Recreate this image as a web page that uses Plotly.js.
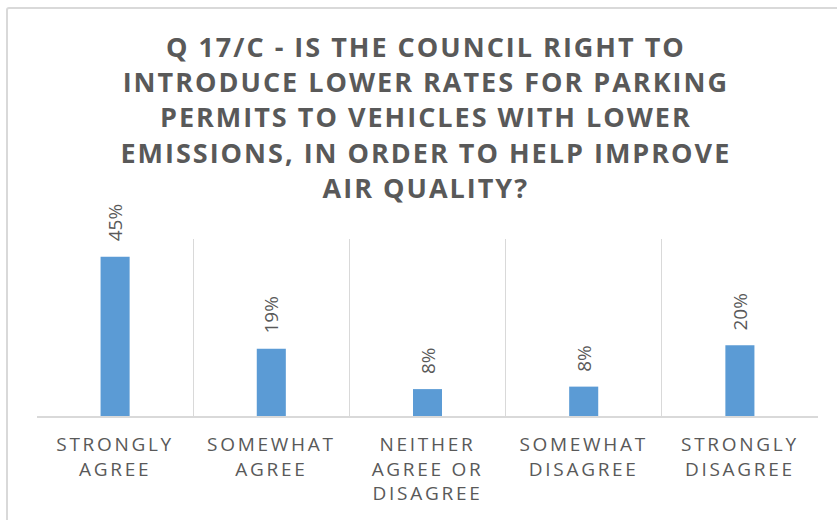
<!DOCTYPE html>
<html>
<head>
<meta charset="utf-8">
<script src="https://cdn.plot.ly/plotly-3.0.1.min.js"></script>
<style>
  html, body { margin: 0; padding: 0; background: #ffffff; }
  #wrap { position: relative; width: 837px; height: 520px; overflow: hidden; }
  #frame { position: absolute; left: 6px; top: 7px; width: 900px; height: 600px;
           border: 2px solid #D9D9D9; border-radius: 3px; box-sizing: border-box; pointer-events: none; z-index: 2; }
  #chart { position: absolute; left: 0; top: 0; width: 837px; height: 520px; }
  .gtitle { letter-spacing: 2px; }
  .xtick text { letter-spacing: 2.7px; }
</style>
</head>
<body>
<div id="wrap">
  <div id="chart"></div>
  <div id="frame"></div>
</div>
<script>
const categories = [
  "STRONGLY<br>AGREE",
  "SOMEWHAT<br>AGREE",
  "NEITHER<br>AGREE OR<br>DISAGREE",
  "SOMEWHAT<br>DISAGREE",
  "STRONGLY<br>DISAGREE"
];
const shares = [0.45, 0.19, 0.076, 0.083, 0.20];
const shareLabels = ["45%", "19%", "8%", "8%", "20%"];
const titleText = "Q 17/C - IS THE COUNCIL RIGHT TO<br>INTRODUCE LOWER RATES FOR PARKING<br>PERMITS TO VEHICLES WITH LOWER<br>EMISSIONS, IN ORDER TO HELP IMPROVE<br>AIR QUALITY?";

const textGrey = "#595959";
const font = "'Open Sans', 'DejaVu Sans', sans-serif";

const trace = {
  type: "bar",
  x: categories,
  y: shares,
  marker: { color: "#5B9BD5" },
  hoverinfo: "skip",
  cliponaxis: false
};

const annotations = categories.map((c, i) => ({
  x: c, y: shares[i], xref: "x", yref: "y",
  text: shareLabels[i],
  showarrow: false,
  textangle: -90,
  xanchor: "center", yanchor: "bottom",
  yshift: 13,
  font: { family: font, size: 19, color: textGrey }
}));

const layout = {
  width: 837, height: 520,
  margin: { l: 37, r: 19, t: 239, b: 104 },
  paper_bgcolor: "rgba(0,0,0,0)",
  plot_bgcolor: "rgba(0,0,0,0)",
  showlegend: false,
  bargap: 0.814,
  title: {
    text: titleText,
    x: 0.5088, xanchor: "center", xref: "container",
    y: 0.89, yanchor: "top", yref: "container",
    font: { family: font, size: 27, color: textGrey, weight: 700 }
  },
  xaxis: {
    type: "category",
    tickson: "boundaries",
    showgrid: true, gridcolor: "#D9D9D9", gridwidth: 1.3,
    showline: true, linecolor: "#D9D9D9", linewidth: 2,
    ticks: "",
    ticklabelstandoff: 10,
    tickfont: { family: font, size: 19, color: textGrey },
    fixedrange: true
  },
  yaxis: {
    range: [0, 0.5],
    visible: false,
    showgrid: false, zeroline: false,
    fixedrange: true
  },
  annotations: annotations
};

Plotly.newPlot("chart", [trace], layout, { displayModeBar: false, staticPlot: true });
</script>
</body>
</html>
